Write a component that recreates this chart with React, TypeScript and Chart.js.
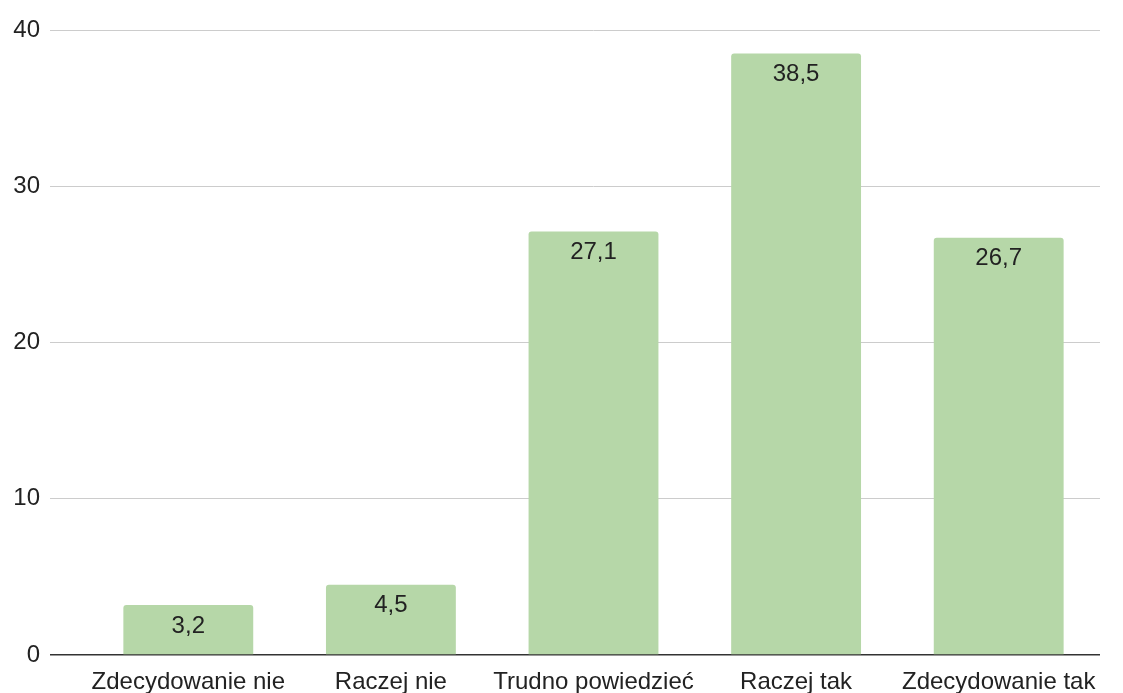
import React, { useEffect, useRef } from "react";
import { Chart, registerables } from "chart.js";

Chart.register(...registerables);

const categories = ["Zdecydowanie nie", "Raczej nie", "Trudno powiedzieć", "Raczej tak", "Zdecydowanie tak"];
const values = [3.2, 4.5, 27.1, 38.5, 26.7];
const yTicks = [0, 10, 20, 30, 40];

const FONT = "'Liberation Sans', Arial, sans-serif";

const valueLabels = {
  id: "valueLabels",
  afterDatasetsDraw(chart: any) {
    const ctx = chart.ctx;
    const meta = chart.getDatasetMeta(0);
    ctx.save();
    ctx.font = `24px ${FONT}`;
    ctx.fillStyle = "#222222";
    ctx.textAlign = "center";
    ctx.textBaseline = "middle";
    meta.data.forEach((bar: any, i: number) => {
      const v = values[i];
      ctx.fillText(String(v).replace(".", ","), bar.x, bar.y + 21);
    });
    ctx.restore();
  },
};

export default function App() {
  const ref = useRef<HTMLCanvasElement | null>(null);
  useEffect(() => {
    if (!ref.current) return;
    const chart = new Chart(ref.current, {
      type: "bar",
      data: {
        labels: categories,
        datasets: [
          {
            data: values,
            backgroundColor: "#b6d7a8",
            borderRadius: 3,
            borderSkipped: "bottom",
            barPercentage: 0.641,
            categoryPercentage: 1,
          },
        ],
      },
      options: {
        responsive: false,
        animation: false,
        layout: { padding: { top: 30, right: 23, left: 0, bottom: 0 } },
        plugins: { legend: { display: false }, tooltip: { enabled: false } },
        scales: {
          x: {
            grid: { display: false },
            border: { display: false },
            ticks: { color: "#222222", font: { family: FONT, size: 24 }, padding: 5, maxRotation: 0, autoSkip: false },
            afterFit: (s: any) => { s.height = 38; },
          },
          y: {
            min: 0,
            max: 40,
            afterBuildTicks: (s: any) => { s.ticks = yTicks.map((v) => ({ value: v })); },
            border: { display: false },
            grid: {
              color: (c: any) => (c.tick && c.tick.value === 0 ? "#333333" : "#cccccc"),
              lineWidth: (c: any) => (c.tick && c.tick.value === 0 ? 1.5 : 1),
              tickLength: 37,
              tickColor: (c: any) => (c.tick && c.tick.value === 0 ? "#333333" : "#cccccc"),
            },
            ticks: { color: "#222222", font: { family: FONT, size: 24 }, padding: 10 },
            afterFit: (s: any) => { s.width = 87; },
          },
        },
      },
      plugins: [valueLabels],
    });
    return () => chart.destroy();
  }, []);
  return (
    <div style={{ position: "absolute", left: 0, top: 0, width: 1123, height: 693, background: "#fff" }}>
      <canvas ref={ref} width={1123} height={693} />
    </div>
  );
}
